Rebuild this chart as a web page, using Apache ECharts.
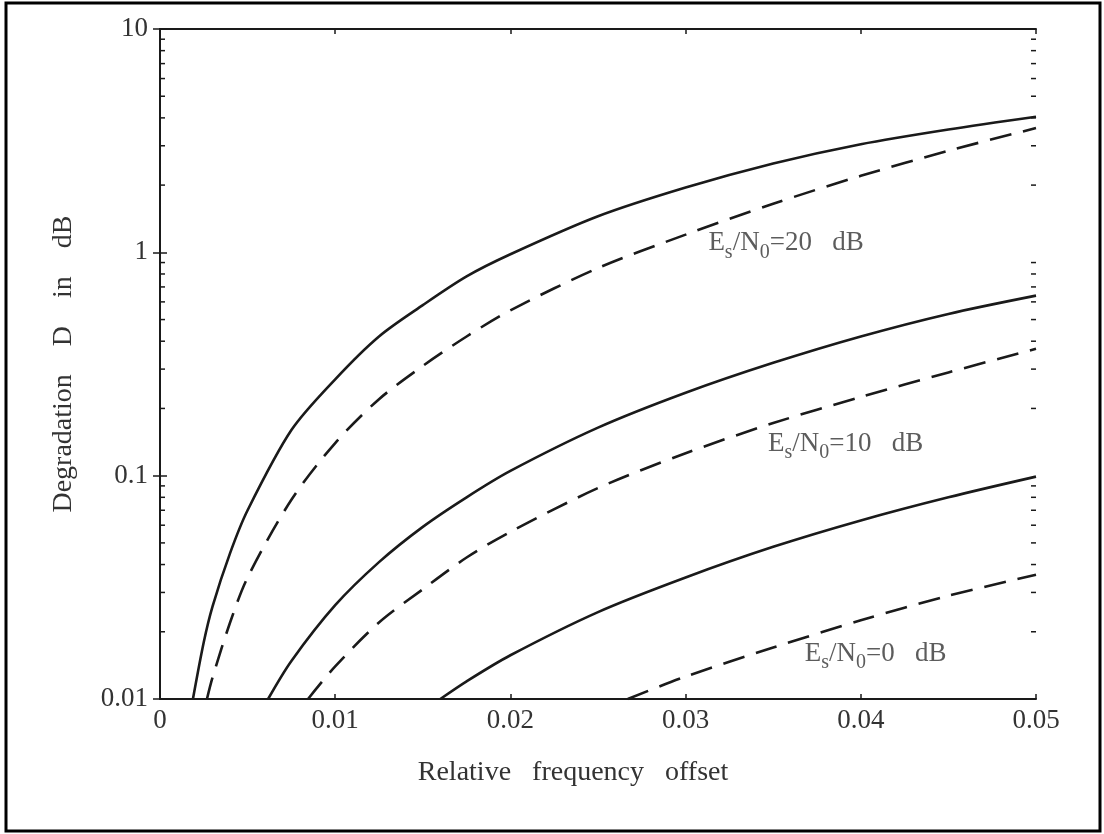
<!DOCTYPE html>
<html>
<head>
<meta charset="utf-8">
<script src="https://cdn.jsdelivr.net/npm/echarts@6/dist/echarts.min.js"></script>
<style>
  html, body { margin: 0; background: #fff; }
  #chart { width: 1104px; height: 834px; }
</style>
</head>
<body>
<div id="chart"></div>
<script>
// values: x = relative frequency offset, y = degradation D in dB
const x20Solid = [0.00188, 0.0025, 0.003, 0.004, 0.005, 0.0075, 0.01, 0.0125, 0.015, 0.0175, 0.02, 0.025, 0.03, 0.035, 0.04, 0.045, 0.05]
const d20Solid = [0.01, 0.018, 0.026, 0.045, 0.07, 0.16, 0.27, 0.42, 0.58, 0.78, 0.98, 1.45, 1.95, 2.5, 3.05, 3.55, 4.05]
const x20Dash = [0.00268, 0.003, 0.004, 0.005, 0.0075, 0.01, 0.0125, 0.015, 0.0175, 0.02, 0.025, 0.03, 0.035, 0.04, 0.045, 0.05]
const d20Dash = [0.01, 0.0125, 0.022, 0.035, 0.078, 0.14, 0.22, 0.31, 0.42, 0.55, 0.85, 1.2, 1.65, 2.2, 2.85, 3.6]
const x10Solid = [0.00617, 0.0075, 0.01, 0.0125, 0.015, 0.0175, 0.02, 0.025, 0.03, 0.035, 0.04, 0.045, 0.05]
const d10Solid = [0.01, 0.0148, 0.0263, 0.041, 0.059, 0.08, 0.105, 0.164, 0.235, 0.32, 0.42, 0.53, 0.64]
const x10Dash = [0.00845, 0.01, 0.0125, 0.015, 0.0175, 0.02, 0.025, 0.03, 0.035, 0.04, 0.045, 0.05]
const d10Dash = [0.01, 0.014, 0.022, 0.031, 0.043, 0.056, 0.088, 0.126, 0.172, 0.225, 0.29, 0.37]
const x0Solid = [0.016, 0.0175, 0.02, 0.025, 0.03, 0.035, 0.04, 0.045, 0.05]
const d0Solid = [0.01, 0.012, 0.0157, 0.0245, 0.035, 0.048, 0.063, 0.08, 0.099]
const x0Dash = [0.0267, 0.03, 0.035, 0.04, 0.045, 0.05]
const d0Dash = [0.01, 0.0126, 0.017, 0.0225, 0.029, 0.036]

// curve labels
const labelX = [0.0313, 0.0347, 0.0368]
const labelY = [1.08, 0.137, 0.0157]
const labelSnr = ['20', '10', '0']

// minor ticks of the log axis
const minorTicks = [0.02, 0.03, 0.04, 0.05, 0.06, 0.07, 0.08, 0.09, 0.2, 0.3, 0.4, 0.5, 0.6, 0.7, 0.8, 0.9, 2, 3, 4, 5, 6, 7, 8, 9]

const fontFamily = "'Liberation Serif', 'DejaVu Serif', serif"
const ink = '#1a1a1a'

function zip(xs, ys) {
  return xs.map((x, i) => [x, ys[i]])
}

function curve(xs, ys, dashed) {
  return {
    type: 'line',
    data: zip(xs, ys),
    showSymbol: false,
    smooth: 0.3,
    lineStyle: {
      color: ink,
      width: 2.6,
      type: dashed ? [22, 12] : 'solid'
    },
    silent: true,
    z: 3
  }
}

const chart = echarts.init(document.getElementById('chart'))

chart.setOption({
  animation: false,
  backgroundColor: '#fff',
  textStyle: { fontFamily: fontFamily },
  grid: { left: 160, top: 29, right: 68, bottom: 135 },
  graphic: [{
    type: 'rect',
    shape: { x: 6, y: 3, width: 1094, height: 828 },
    style: { fill: 'none', stroke: '#000', lineWidth: 3 },
    z: 10
  }],
  xAxis: [{
    type: 'value',
    min: 0,
    max: 0.05,
    interval: 0.01,
    axisLine: { lineStyle: { color: ink, width: 2 } },
    axisTick: { inside: true, length: 5, lineStyle: { color: ink, width: 1.5 } },
    splitLine: { show: false },
    axisLabel: {
      color: '#333',
      fontSize: 27,
      fontFamily: fontFamily,
      margin: 8,
      formatter: v => (v === 0 ? '0' : v.toFixed(2))
    },
    name: 'Relative   frequency   offset',
    nameLocation: 'middle',
    nameGap: 60,
    nameTextStyle: { color: '#333', fontSize: 28, fontFamily: fontFamily, padding: [0, 50, 0, 0] }
  }, {
    type: 'value',
    position: 'top',
    min: 0,
    max: 0.05,
    interval: 0.01,
    axisLine: { lineStyle: { color: ink, width: 2 } },
    axisTick: { inside: true, length: 5, lineStyle: { color: ink, width: 1.5 } },
    axisLabel: { show: false },
    splitLine: { show: false }
  }],
  yAxis: [{
    type: 'log',
    logBase: 10,
    min: 0.01,
    max: 10,
    axisLine: { show: true, lineStyle: { color: ink, width: 2 } },
    axisTick: { show: true, inside: true, length: 7, lineStyle: { color: ink, width: 1.5 } },
    splitLine: { show: false },
    axisLabel: {
      color: '#333',
      fontSize: 27,
      fontFamily: fontFamily,
      margin: 12,
      formatter: v => String(+v.toPrecision(2))
    },
    name: 'Degradation    D    in    dB',
    nameLocation: 'middle',
    nameGap: 82,
    nameTextStyle: { color: '#333', fontSize: 28, fontFamily: fontFamily }
  }, {
    type: 'log',
    logBase: 10,
    min: 0.01,
    max: 10,
    position: 'right',
    axisLine: { show: true, lineStyle: { color: ink, width: 2 } },
    axisTick: { show: true, inside: true, length: 7, lineStyle: { color: ink, width: 1.5 } },
    axisLabel: { show: false },
    splitLine: { show: false }
  }],
  series: [
    curve(x20Solid, d20Solid, false),
    curve(x20Dash, d20Dash, true),
    curve(x10Solid, d10Solid, false),
    curve(x10Dash, d10Dash, true),
    curve(x0Solid, d0Solid, false),
    curve(x0Dash, d0Dash, true),
    {
      type: 'custom',
      silent: true,
      data: minorTicks,
      z: 4,
      renderItem: function (params, api) {
        const v = api.value(0)
        const l = api.coord([0, v])
        const r = api.coord([0.05, v])
        const style = { stroke: ink, lineWidth: 1.5 }
        return {
          type: 'group',
          children: [
            { type: 'line', shape: { x1: l[0], y1: l[1], x2: l[0] + 5, y2: l[1] }, style: style },
            { type: 'line', shape: { x1: r[0], y1: r[1], x2: r[0] - 5, y2: r[1] }, style: style }
          ]
        }
      },
      encode: { y: 0 }
    },
    {
      type: 'scatter',
      silent: true,
      symbolSize: 0,
      data: labelX.map((x, i) => ({ value: [x, labelY[i]], snr: labelSnr[i] })),
      label: {
        show: true,
        position: 'right',
        distance: 0,
        formatter: p => '{n|E}{s|s}{n|/N}{s|0}{n|=' + p.data.snr + '   dB}',
        rich: {
          n: { fontSize: 27, lineHeight: 30, verticalAlign: 'top', color: '#333', fontFamily: fontFamily },
          s: { fontSize: 20, lineHeight: 30, verticalAlign: 'top', padding: [13, 0, 0, 0], color: '#333', fontFamily: fontFamily }
        }
      },
      z: 5
    }
  ]
})
</script>
</body>
</html>
